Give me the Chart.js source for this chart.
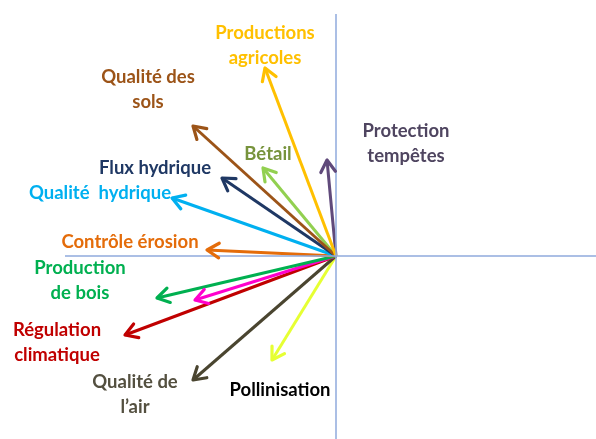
<!DOCTYPE html>
<html><head><meta charset="utf-8">
<script src="https://cdn.jsdelivr.net/npm/chart.js@4/dist/chart.umd.min.js"></script>
<style>html,body{margin:0;padding:0;background:#fff}#w{width:596px;height:439px}</style>
</head><body><div id="w"><canvas id="c"></canvas></div>
<script>
// Biplot: arrow end coordinates (origin at 0,0)
const services = ["Productions agricoles","Qualité des sols","Bétail","Protection tempêtes","Flux hydrique","Qualité hydrique","Contrôle érosion","Production de bois","(rose)","Régulation climatique","Qualité de l'air","Pollinisation"];
const xValues = [-71,-143,-73,-9,-114,-164,-129,-179,-141,-211,-143,-64];
const yValues = [188,130,88,96,78,58,6,-42,-44,-79,-124,-104];
const arrowColors = ["#FFC000","#9C5418","#92D050","#604A7B","#1F3864","#00B0F0","#E46C0A","#00B050","#FF00CC","#C00000","#4A4530","#E6FF33"];
// Text labels (lines) and label colours
const labelLines = [["Productions","agricoles"],["Qualité des","sols"],["Bétail"],["Protection","tempêtes"],["Flux hydrique"],["Qualité  hydrique"],["Contrôle érosion"],["Production","de bois"],[],["Régulation","climatique"],["Qualité de","l’air"],["Pollinisation"]];
const labelColors = ["#FFC000","#9C5418","#77933C","#4F4560","#1F3864","#00B0F0","#E46C0A","#00B050","#FF00CC","#C00000","#545040","#000000"];
// label anchor (centre of first line) in data units
const labelX = [-71,-188,-68,70,-181,-236,-206,-256,0,-279,-201,-56];
const labelY = [223,179,102,125,88,63,14,-12,0,-74,-126,-134];

const axisColor = "#8FAADC";
const datasets = [
  {data:[{x:-271,y:0},{x:260,y:0}],borderColor:axisColor,borderWidth:1.5,showLine:true,pointRadius:0},
  {data:[{x:0,y:-183},{x:0,y:242}],borderColor:axisColor,borderWidth:1.5,showLine:true,pointRadius:0}
];
services.forEach((s,i)=>{
  datasets.push({label:s,data:[{x:0,y:0},{x:xValues[i],y:yValues[i]}],borderColor:arrowColors[i],borderWidth:3,showLine:true,pointRadius:0,isArrow:true});
});

const arrowPlugin = {
  id:'arrows',
  afterDatasetsDraw(chart){
    const ctx = chart.ctx, xs = chart.scales.x, ys = chart.scales.y;
    chart.data.datasets.forEach(ds=>{
      if(!ds.isArrow) return;
      const p0 = ds.data[0], p1 = ds.data[1];
      const x0 = xs.getPixelForValue(p0.x), y0 = ys.getPixelForValue(p0.y);
      const x1 = xs.getPixelForValue(p1.x), y1 = ys.getPixelForValue(p1.y);
      const a = Math.atan2(y1-y0,x1-x0), L = 14, sp = 0.55;
      ctx.save();
      ctx.strokeStyle = ds.borderColor; ctx.lineWidth = 3.2; ctx.lineCap='round'; ctx.lineJoin='round';
      ctx.beginPath();
      ctx.moveTo(x1 - L*Math.cos(a-sp), y1 - L*Math.sin(a-sp));
      ctx.lineTo(x1,y1);
      ctx.lineTo(x1 - L*Math.cos(a+sp), y1 - L*Math.sin(a+sp));
      ctx.stroke();
      ctx.restore();
    });
    ctx.save();
    ctx.font = "bold 18.5px Lato, 'Open Sans', sans-serif";
    ctx.textAlign='center'; ctx.textBaseline='middle';
    labelLines.forEach((lines,i)=>{
      const px = xs.getPixelForValue(labelX[i]), py = ys.getPixelForValue(labelY[i]);
      ctx.fillStyle = labelColors[i];
      lines.forEach((t,k)=>ctx.fillText(t,px,py+k*25));
    });
    ctx.restore();
  }
};

new Chart(document.getElementById('c'),{
  type:'scatter',
  data:{datasets},
  options:{
    responsive:true,maintainAspectRatio:false,animation:false,
    layout:{padding:0},
    plugins:{legend:{display:false},tooltip:{enabled:false}},
    scales:{
      x:{type:'linear',min:-336,max:260,display:false},
      y:{type:'linear',min:-183,max:256,display:false}
    }
  },
  plugins:[arrowPlugin]
});
</script></body></html>
